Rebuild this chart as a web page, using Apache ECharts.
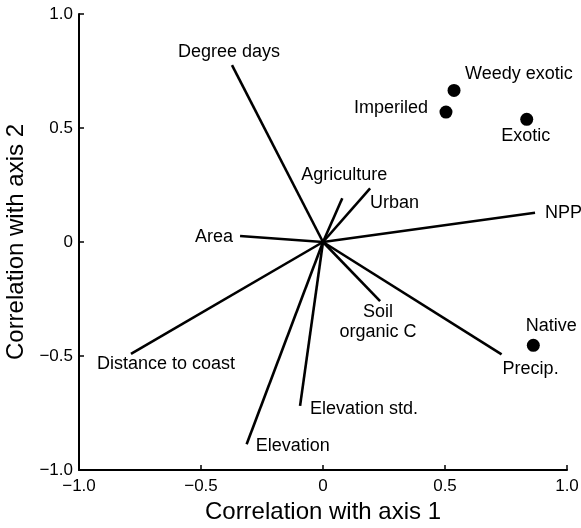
<!DOCTYPE html>
<html>
<head>
<meta charset="utf-8">
<script src="https://cdn.jsdelivr.net/npm/echarts@6/dist/echarts.min.js"></script>
<style>html,body{margin:0;padding:0;background:#fff}#c{width:581px;height:528px}</style>
</head>
<body>
<div id="c"></div>
<script>
// Environmental vectors (correlation with axis 1, axis 2)
const vectorNames = ['Degree days','Agriculture','Urban','NPP','Area','Distance to coast','Elevation','Elevation std.','Soil\norganic C','Precip.'];
const vectorX = [-0.373, 0.079, 0.193, 0.869, -0.340, -0.787, -0.313, -0.094, 0.234, 0.732];
const vectorY = [0.776, 0.192, 0.235, 0.128, 0.026, -0.491, -0.887, -0.719, -0.259, -0.493];

// Species groups
const groupNames = ['Weedy exotic','Imperiled','Exotic','Native'];
const groupX = [0.537, 0.504, 0.835, 0.862];
const groupY = [0.665, 0.570, 0.538, -0.453];

const xTicks = [-1, -0.5, 0, 0.5, 1];
const yTicks = [-1, -0.5, 0, 0.5, 1];

// label placement (style): [dx, dy, align]
const vecLabelPos = [[-3,-13,'center'],[2,-23,'center'],[0,15,'left'],[10,0,'left'],[-7,1,'right'],[-34,10,'left'],[9,2,'left'],[10,3,'left'],[-2,21,'center'],[1,15,'left']];
const grpLabelPos = [[11,-16,'left'],[-18,-4,'right'],[-1,17,'center'],[18,-19,'center']];

const font = 'Liberation Sans, Arial, Helvetica, sans-serif';
const fmt = v => (Math.abs(v) < 1e-9 ? '0' : v.toFixed(1)).replace('-', '\u2212');

const chart = echarts.init(document.getElementById('c'), null, {renderer: 'canvas'});

const vecData = vectorNames.map((n, i) => [vectorX[i], vectorY[i], i]);
const grpData = groupNames.map((n, i) => [groupX[i], groupY[i], i]);

chart.setOption({
  animation: false,
  backgroundColor: '#fff',
  grid: {left: 79, right: 14, top: 14, bottom: 58, containLabel: false, outerBoundsMode: 'none'},
  xAxis: {
    type: 'value', min: -1, max: 1, interval: 0.5,
    name: 'Correlation with axis 1', nameLocation: 'middle', nameGap: 28,
    nameTextStyle: {fontFamily: font, fontSize: 24, color: '#000'},
    axisLine: {onZero: false, lineStyle: {color: '#000', width: 2}},
    axisTick: {inside: true, length: 5, lineStyle: {color: '#000', width: 1.5}},
    axisLabel: {formatter: fmt, fontFamily: font, fontSize: 17, color: '#000', margin: 8},
    splitLine: {show: false}
  },
  yAxis: {
    type: 'value', min: -1, max: 1, interval: 0.5,
    name: 'Correlation with axis 2', nameLocation: 'middle', nameGap: 46, nameRotate: 90,
    nameTextStyle: {fontFamily: font, fontSize: 24, color: '#000'},
    axisLine: {show: true, onZero: false, lineStyle: {color: '#000', width: 2}},
    axisTick: {show: true, inside: true, length: 5, lineStyle: {color: '#000', width: 1.5}},
    axisLabel: {formatter: fmt, fontFamily: font, fontSize: 17, color: '#000', margin: 6},
    splitLine: {show: false}
  },
  series: [
    {
      type: 'custom',
      data: vecData,
      renderItem: function (params, api) {
        const o = api.coord([0, 0]);
        const e = api.coord([api.value(0), api.value(1)]);
        const i = api.value(2);
        const p = vecLabelPos[i];
        return {
          type: 'group',
          children: [
            {type: 'line', shape: {x1: o[0], y1: o[1], x2: e[0], y2: e[1]},
             style: {stroke: '#000', lineWidth: 2.6}},
            {type: 'text', x: e[0] + p[0], y: e[1] + p[1],
             style: {text: vectorNames[i], fill: '#000', font: '18px ' + font,
                     textAlign: p[2], textVerticalAlign: 'middle', lineHeight: 20}}
          ]
        };
      }
    },
    {
      type: 'custom',
      data: grpData,
      renderItem: function (params, api) {
        const e = api.coord([api.value(0), api.value(1)]);
        const i = api.value(2);
        const p = grpLabelPos[i];
        return {
          type: 'group',
          children: [
            {type: 'circle', shape: {cx: e[0], cy: e[1], r: 6.5}, style: {fill: '#000'}},
            {type: 'text', x: e[0] + p[0], y: e[1] + p[1],
             style: {text: groupNames[i], fill: '#000', font: '18px ' + font,
                     textAlign: p[2], textVerticalAlign: 'middle'}}
          ]
        };
      }
    }
  ]
});
</script>
</body>
</html>
